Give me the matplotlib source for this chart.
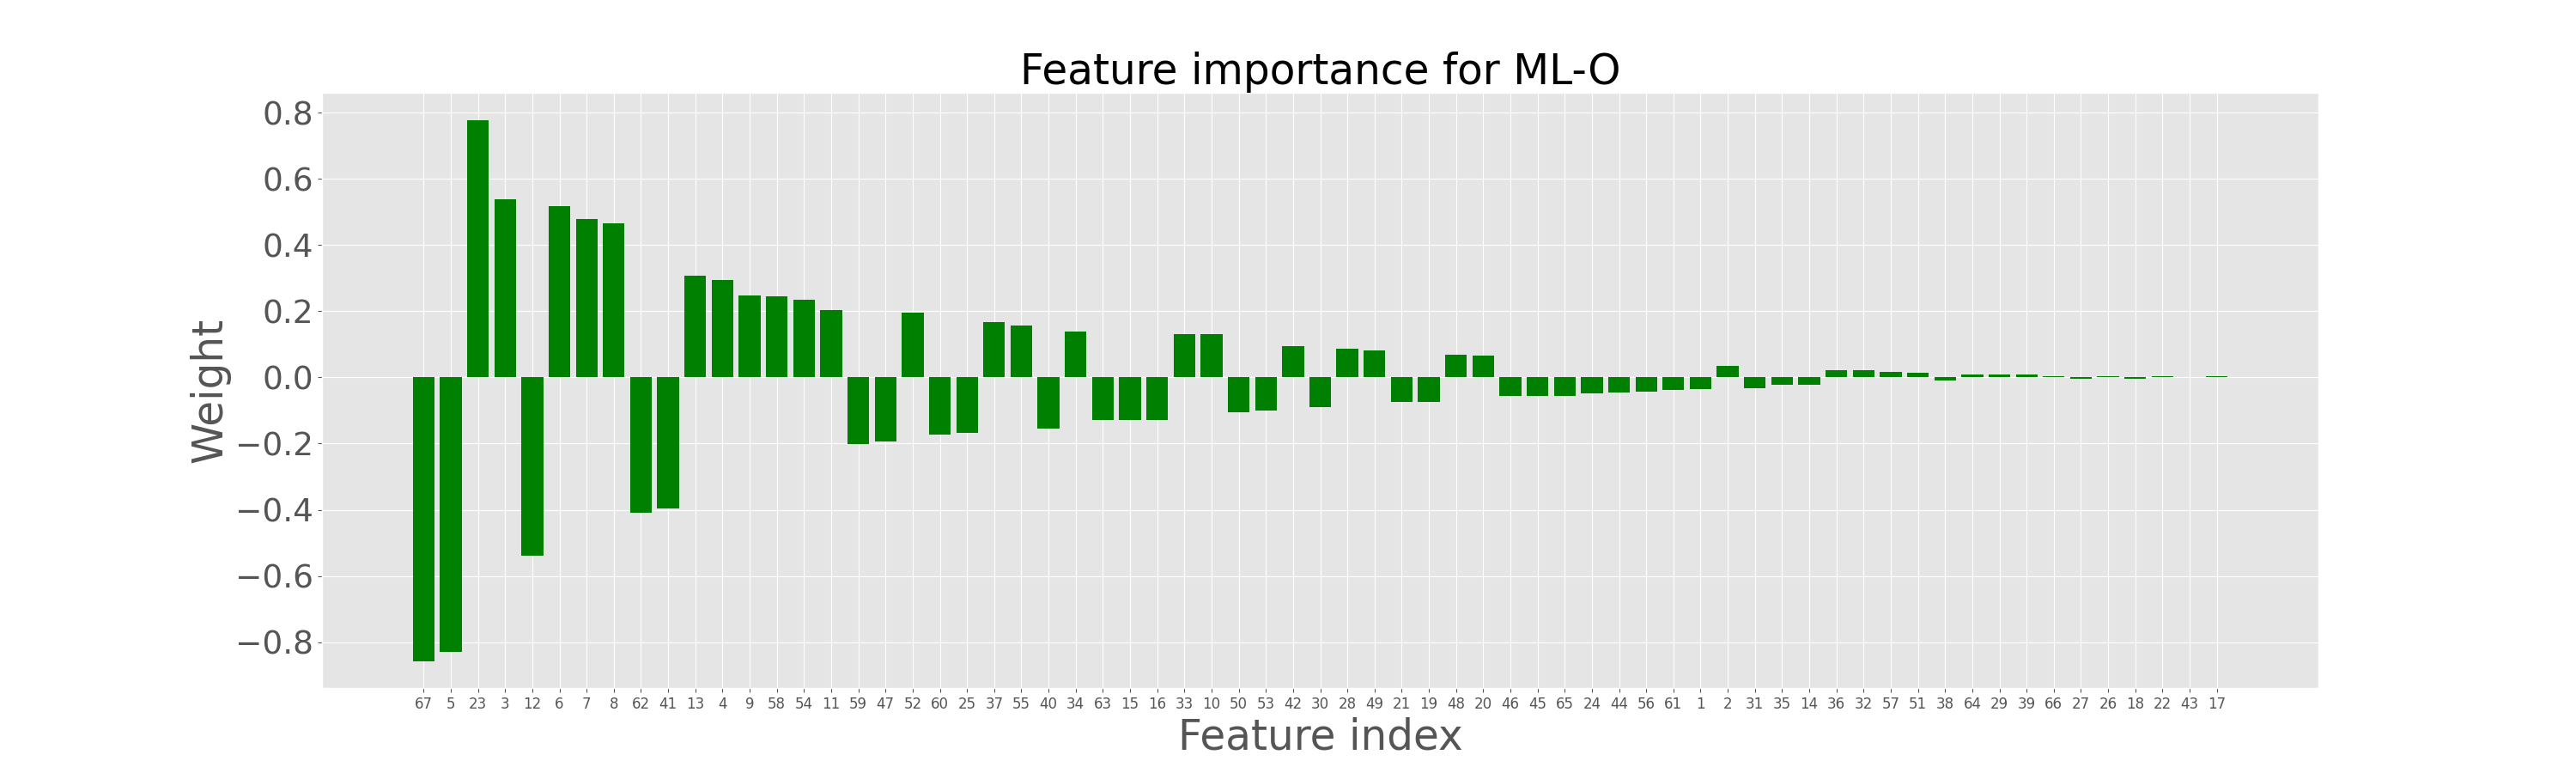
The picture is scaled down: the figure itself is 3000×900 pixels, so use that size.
import matplotlib
matplotlib.use('Agg')
import matplotlib.pyplot as plt
import numpy as np

# feature indices, sorted as in the chart
features = [67, 5, 23, 3, 12, 6, 7, 8, 62, 41, 13, 4, 9, 58, 54, 11, 59, 47, 52, 60,
            25, 37, 55, 40, 34, 63, 15, 16, 33, 10, 50, 53, 42, 30, 28, 49, 21, 19, 48, 20,
            46, 45, 65, 24, 44, 56, 61, 1, 2, 31, 35, 14, 36, 32, 57, 51, 38, 64, 29, 39,
            66, 27, 26, 18, 22, 43, 17]

# weights
weights = [-0.857, -0.831, 0.779, 0.539, -0.539, 0.517, 0.480, 0.467, -0.410, -0.396,
           0.308, 0.295, 0.249, 0.246, 0.236, 0.205, -0.202, -0.194, 0.195, -0.174,
           -0.168, 0.167, 0.158, -0.155, 0.138, -0.129, -0.129, -0.129, 0.130, 0.130,
           -0.106, -0.099, 0.094, -0.090, 0.088, 0.081, -0.073, -0.073, 0.070, 0.065,
           -0.057, -0.057, -0.055, -0.049, -0.046, -0.044, -0.038, -0.036, 0.036, -0.033,
           -0.022, -0.021, 0.021, 0.021, 0.016, 0.013, -0.010, 0.010, 0.008, 0.008,
           0.005, -0.003, 0.003, -0.003, 0.003, 0.0005, 0.003]

plt.style.use('ggplot')

fig = plt.figure(figsize=(30, 9), dpi=100)
ax = fig.add_subplot(111)

x = np.arange(len(features))
ax.bar(x, weights, color='green', width=0.8)

ax.set_xticks(x)
ax.set_xticklabels([str(f) for f in features], fontsize=12)
ax.tick_params(axis='y', labelsize=27)

ax.set_title('Feature importance for ML-O', fontsize=35, color='black')
ax.set_xlabel('Feature index', fontsize=35)
ax.set_ylabel('Weight', fontsize=35)

plt.savefig('out.png', dpi=100)
